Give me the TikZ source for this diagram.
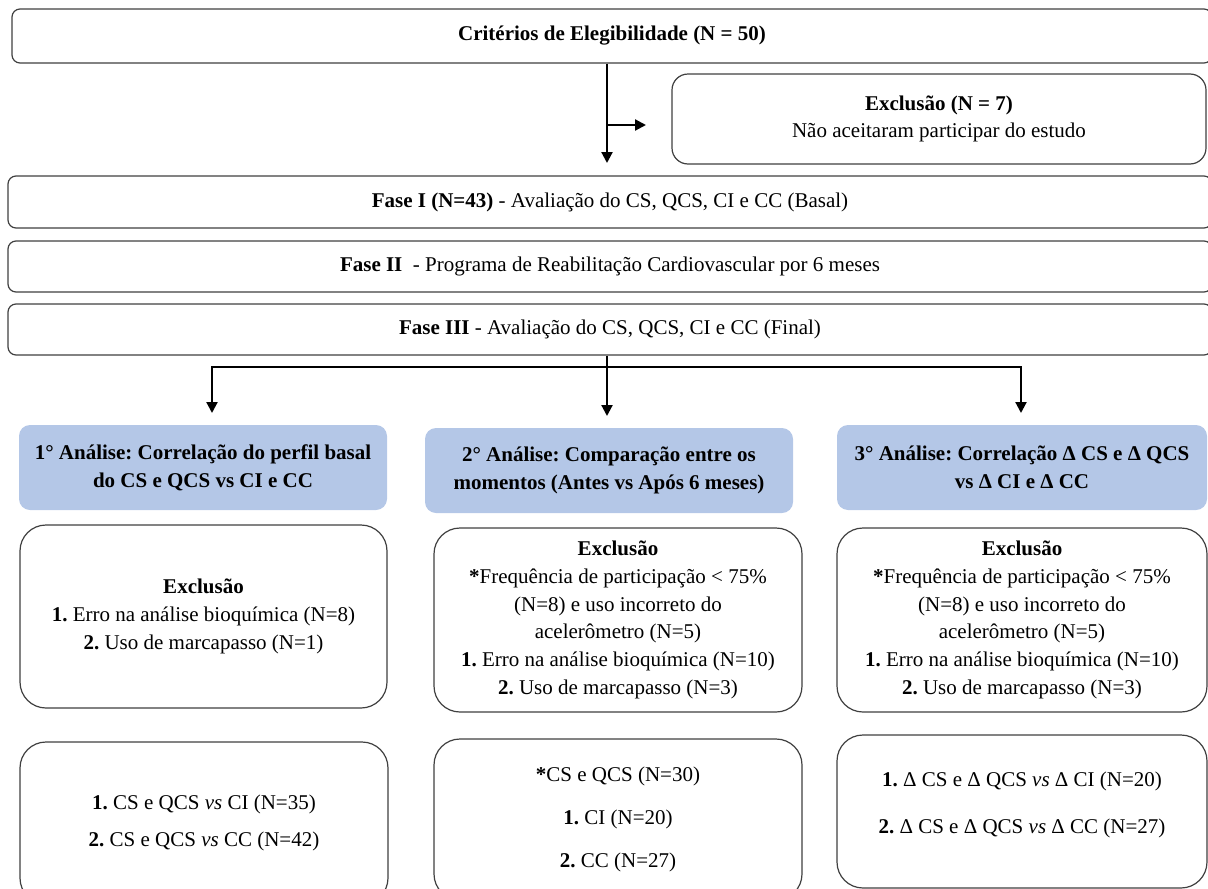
\documentclass[tikz,border=0pt]{standalone}
\usepackage{fontspec}
\setmainfont{Liberation Serif}
\usetikzlibrary{arrows.meta}
\frenchspacing
\definecolor{hdrblue}{HTML}{B4C7E7}
\definecolor{edge}{HTML}{404040}
\tikzset{
  wbox/.style={draw=edge, line width=1.2pt, fill=white, inner sep=0pt, align=center},
  thin/.style={wbox, rounded corners=8pt},
  round/.style={wbox, rounded corners=26pt},
  hdr/.style={fill=hdrblue, draw=none, rounded corners=11pt, inner sep=0pt, align=center},
  conn/.style={line width=2.2pt, black},
  arr/.style={conn, -{Triangle[length=11pt,width=11pt]}}
}
\begin{document}
\begin{tikzpicture}[x=1pt, y=-1pt, font=\fontsize{21}{27.7}\selectfont]
\useasboundingbox (0,0) rectangle (1208,889);
\clip (0,0) rectangle (1208,889);
% top boxes
\node[thin, minimum width=1200pt, minimum height=54pt] (crit) at (612,36)
  {\textbf{Critérios de Elegibilidade (N = 50)}};
\node[wbox, rounded corners=16pt, minimum width=534pt, minimum height=90pt] (excl0) at (939,119)
  {\textbf{Exclusão (N = 7)}\\[-1.5pt]Não aceitaram participar do estudo};
\node[thin, minimum width=1204pt, minimum height=52pt] (fase1) at (610,202)
  {\textbf{Fase I (N=43)} - Avaliação do CS, QCS, CI e CC (Basal)};
\node[thin, minimum width=1204pt, minimum height=51pt] (fase2) at (610,266.5)
  {\textbf{Fase II}\ \ - Programa de Reabilitação Cardiovascular por 6 meses};
\node[thin, minimum width=1204pt, minimum height=51pt] (fase3) at (610,329.5)
  {\textbf{Fase III} - Avaliação do CS, QCS, CI e CC (Final)};
% analysis headers
\node[hdr, minimum width=368pt, minimum height=85pt] (an1) at (203,467.5)
  {\textbf{1° Análise: Correlação do perfil basal}\\\textbf{do CS e QCS vs CI e CC}};
\node[hdr, minimum width=368pt, minimum height=85pt] (an2) at (609,470.5)
  {\textbf{2° Análise: Comparação entre os}\\\textbf{momentos (Antes vs Após 6 meses)}};
\node[hdr, minimum width=370pt, minimum height=85pt] (an3) at (1022,467.5)
  {\textbf{3° Análise: Correlação Δ CS e Δ QCS}\\\textbf{vs Δ CI e Δ CC}};
% exclusion boxes
\node[round, minimum width=367pt, minimum height=183pt] (ex1) at (203.5,616.5)
  {\textbf{Exclusão}\\\textbf{1.} Erro na análise bioquímica (N=8)\\\textbf{2.} Uso de marcapasso (N=1)};
\node[round, minimum width=368pt, minimum height=184pt] (ex2) at (618,620)
  {\textbf{Exclusão}\\\textbf{*}Frequência de participação < 75\%\\(N=8) e uso incorreto do\\acelerômetro (N=5)\\\textbf{1.} Erro na análise bioquímica (N=10)\\\textbf{2.} Uso de marcapasso (N=3)};
\node[round, minimum width=370pt, minimum height=184pt] (ex3) at (1022,620)
  {\textbf{Exclusão}\\\textbf{*}Frequência de participação < 75\%\\(N=8) e uso incorreto do\\acelerômetro (N=5)\\\textbf{1.} Erro na análise bioquímica (N=10)\\\textbf{2.} Uso de marcapasso (N=3)};
% result boxes
\node[round, minimum width=368pt, minimum height=162pt] (res1) at (204,823)
  {\textbf{1.} CS e QCS \textit{vs} CI (N=35)\\[9pt]\textbf{2.} CS e QCS \textit{vs} CC (N=42)};
\node[round, minimum width=368pt, minimum height=161pt] (res2) at (618,819.5)
  {\textbf{*}CS e QCS (N=30)\\[15pt]\textbf{1.} CI (N=20)\\[15pt]\textbf{2.} CC (N=27)};
\node[round, minimum width=370pt, minimum height=153pt] (res3) at (1022,811.5)
  {\textbf{1.} Δ CS e Δ QCS \textit{vs} Δ CI (N=20)\\[20pt]\textbf{2.} Δ CS e Δ QCS \textit{vs} Δ CC (N=27)\\[-10pt]\mbox{}};
% connectors
\coordinate (a1) at (607,163);
\coordinate (a2) at (646,125);
\draw[arr] (a1 |- crit.south) -- (a1);
\draw[arr] (a1 |- a2) -- (a2);
\coordinate (j) at (607,367);
\coordinate (l) at (212,367);
\coordinate (r) at (1021,367);
\coordinate (t1) at (212,413);
\coordinate (t2) at (607,416);
\coordinate (t3) at (1021,413);
\draw[conn] (j |- fase3.south) -- (j);
\draw[conn, line cap=rect] (l) -- (r);
\draw[arr] (l) -- (t1);
\draw[arr] (j) -- (t2);
\draw[arr] (r) -- (t3);
\end{tikzpicture}
\end{document}
